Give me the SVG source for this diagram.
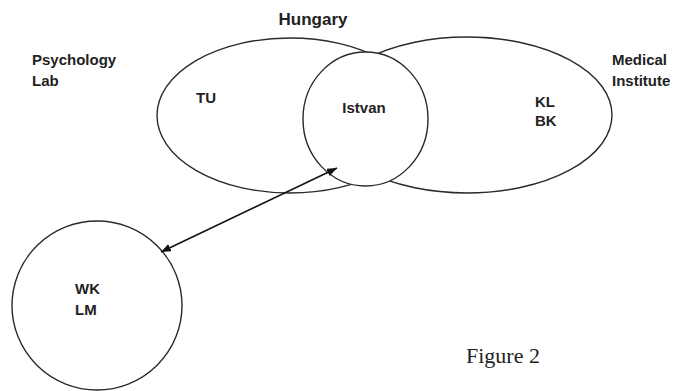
<svg xmlns="http://www.w3.org/2000/svg" width="676" height="391" viewBox="0 0 676 391">
<style>
.shape{fill:#fff;stroke:#2a2a2a;stroke-width:1.4}
.lbl{font-family:"Liberation Sans",Arial,sans-serif;font-weight:bold;font-size:15px;fill:#222}
.cap{font-family:"Liberation Serif","Times New Roman",serif;font-size:22px;fill:#222}
</style>
<defs>
<marker id="ah" viewBox="0 0 10 8" refX="10" refY="4" markerWidth="10" markerHeight="8" markerUnits="userSpaceOnUse" orient="auto-start-reverse">
<path d="M0,0 L10,4 L0,8 z" fill="#111"/>
</marker>
</defs>
<rect width="676" height="391" fill="#fff"/>
<text class="lbl" x="313" y="25" text-anchor="middle" style="font-size:17px">Hungary</text>
<g id="psychology-lab">
<ellipse class="shape" cx="290" cy="115.5" rx="133" ry="77.5"/>
<text class="lbl" x="196" y="103">TU</text>
</g>
<g id="medical-institute">
<ellipse class="shape" cx="467" cy="115" rx="145" ry="78"/>
<text class="lbl" x="535" y="107">KL</text>
<text class="lbl" x="535" y="126">BK</text>
</g>
<g id="istvan">
<ellipse class="shape" cx="365.5" cy="119" rx="62.5" ry="67"/>
<text class="lbl" x="364" y="113" text-anchor="middle">Istvan</text>
</g>
<g id="wk-lm">
<ellipse class="shape" cx="97" cy="305.5" rx="85" ry="84.5"/>
<text class="lbl" x="75" y="294">WK</text>
<text class="lbl" x="75" y="315">LM</text>
</g>
<g id="outside-labels">
<text class="lbl" x="32" y="65">Psychology</text>
<text class="lbl" x="32" y="86">Lab</text>
<text class="lbl" x="612" y="65">Medical</text>
<text class="lbl" x="612" y="86">Institute</text>
</g>
<g id="connectors">
<line x1="161" y1="252" x2="337" y2="168" stroke="#111" stroke-width="1.6" marker-start="url(#ah)" marker-end="url(#ah)"/>
</g>
<text class="cap" x="466" y="363">Figure 2</text>
</svg>
